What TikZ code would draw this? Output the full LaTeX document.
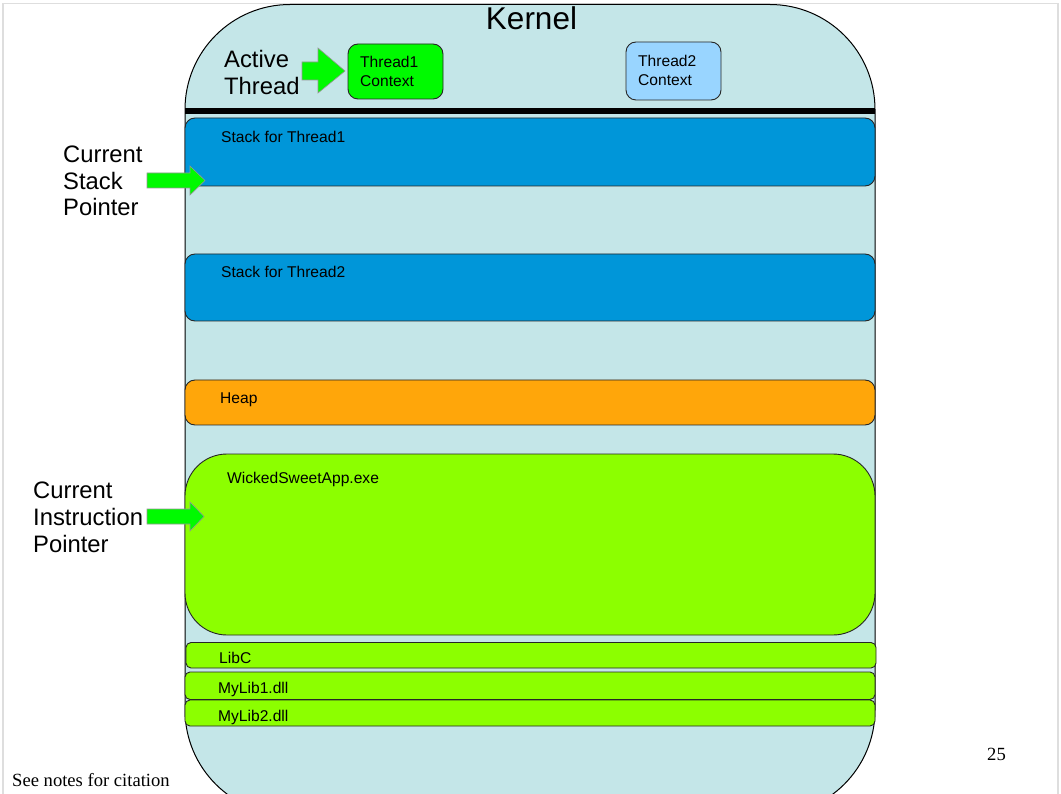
\documentclass[tikz,border=0pt]{standalone}
\usepackage{fontspec}
\setmainfont{Liberation Sans}
\newfontfamily\notefont{Liberation Serif}

\definecolor{kernelfill}{RGB}{196,230,232}
\definecolor{stackblue}{RGB}{0,150,217}
\definecolor{heaporange}{RGB}{255,166,10}
\definecolor{codegreen}{RGB}{140,255,0}
\definecolor{activegreen}{RGB}{0,250,0}
\definecolor{idleblue}{RGB}{153,213,255}
\definecolor{framegray}{RGB}{222,222,222}
\definecolor{arrowedge}{RGB}{150,150,150}

\begin{document}
\begin{tikzpicture}[x=1pt,y=-1pt,
  region/.style={draw=black!85, line width=0.9pt, rounded corners=#1},
  region/.default=10pt,
  boxlabel/.style={anchor=base west, inner sep=0pt, font=\fontsize{15.6}{18.7}\selectfont},
  sidelabel/.style={anchor=base west, inner sep=0pt, font=\fontsize{23.8}{27}\selectfont},
  notelabel/.style={anchor=base west, inner sep=0pt, font=\notefont\fontsize{18.6}{22}\selectfont},
  blockarrow/.style={fill=activegreen, draw=arrowedge, line width=0.6pt, line join=miter}
]
\useasboundingbox (0,0) rectangle (1061,794);

% slide frame
\draw[framegray, line width=1.3pt] (3,794) -- (3,3.5) -- (1058,3.5) -- (1058,794);

% kernel / address space body
\begin{scope}
  \clip (0,0) rectangle (1061,794);
  \draw[fill=kernelfill, draw=black, line width=1pt, rounded corners=105pt]
    (185,4.5) rectangle (875,815);
\end{scope}
\node[anchor=base, inner sep=0pt, font=\fontsize{31.5}{36}\selectfont] (kernel) at (531.5,30) {Kernel};

% kernel / user boundary
\fill[black] (185,108) rectangle (875,114.5);

% thread contexts
\draw[region, fill=activegreen] (348,44) rectangle (443,99);
\node[boxlabel] (ctx1a) at (360,68) {Thread1};
\node[boxlabel] (ctx1b) at (360,87) {Context};
\draw[region, fill=idleblue] (626,42) rectangle (721,100);
\node[boxlabel] (ctx2a) at (638,67) {Thread2};
\node[boxlabel] (ctx2b) at (638,86) {Context};

% memory regions
\draw[region, fill=stackblue] (185,118) rectangle (875,186);
\node[boxlabel] (stack1) at (221,143) {Stack for Thread1};
\draw[region, fill=stackblue] (185,254) rectangle (875,321);
\node[boxlabel] (stack2) at (221,278) {Stack for Thread2};
\draw[region, fill=heaporange] (185,380) rectangle (875,425);
\node[boxlabel] (heap) at (220,403) {Heap};
\draw[region=42pt, fill=codegreen] (185,454) rectangle (875,635);
\node[boxlabel] (app) at (227,483) {WickedSweetApp.exe};
\draw[region=5pt, fill=codegreen] (186,642.5) rectangle (876,668);
\node[boxlabel] (libc) at (219,663.5) {LibC};
\draw[region=5pt, fill=codegreen] (185,672) rectangle (875,699.5);
\node[boxlabel] (mylib1) at (218,693.5) {MyLib1.dll};
\draw[region=5pt, fill=codegreen] (185,700) rectangle (875,726);
\node[boxlabel] (mylib2) at (218,721.5) {MyLib2.dll};

% pointer labels
\node[sidelabel] (act1) at (224,68) {Active};
\node[sidelabel] (act2) at (224,95) {Thread};
\node[sidelabel] (sp1) at (63,163) {Current};
\node[sidelabel] (sp2) at (63,189.5) {Stack};
\node[sidelabel] (sp3) at (63,216) {Pointer};
\node[sidelabel] (ip1) at (33,498) {Current};
\node[sidelabel] (ip2) at (33,525) {Instruction};
\node[sidelabel] (ip3) at (33,552) {Pointer};

% block arrows
\draw[blockarrow] (302,62) -- (318,62) -- (318,48) -- (345,71) -- (318,93) -- (318,80) -- (302,80) -- cycle;
\draw[blockarrow] (147,173) -- (190,173) -- (190,166) -- (205,180.5) -- (190,195) -- (190,188) -- (147,188) -- cycle;
\draw[blockarrow] (147,509) -- (190,509) -- (190,502) -- (204,516.5) -- (190,531) -- (190,524) -- (147,524) -- cycle;

% footer
\node[notelabel] (note) at (12,786) {See notes for citation};
\node[notelabel] (page) at (987,760) {25};
\end{tikzpicture}
\end{document}
